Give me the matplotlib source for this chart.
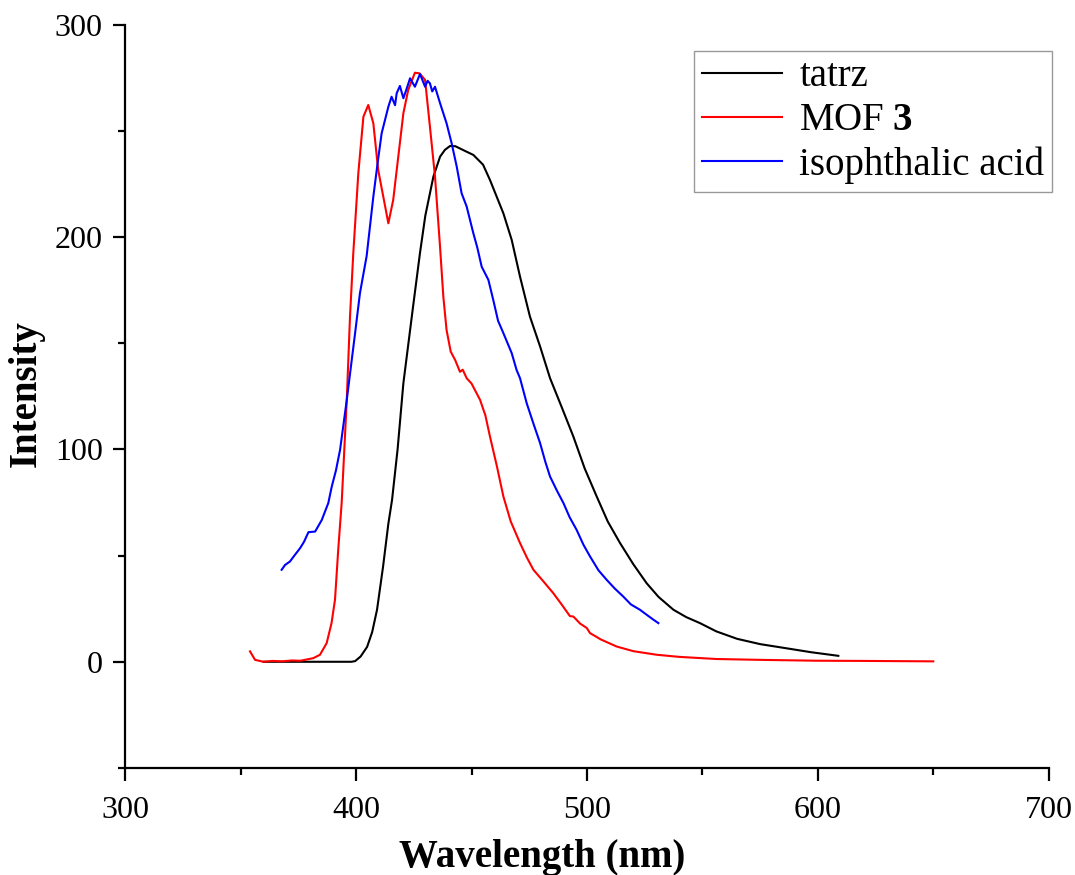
import matplotlib
matplotlib.use("Agg")
import matplotlib.pyplot as plt
from matplotlib.ticker import MultipleLocator

plt.rcParams['font.family'] = ['Liberation Serif', 'DejaVu Serif']
plt.rcParams['mathtext.fontset'] = 'custom'
plt.rcParams['mathtext.rm'] = 'Liberation Serif'
plt.rcParams['mathtext.bf'] = 'Liberation Serif:bold'

# tatrz (black)
tatrz_x = [360, 380, 398, 399.6, 402, 404.8, 407, 409.1, 411.7, 414.0, 415.6, 418, 420.5, 424.7, 427.7,
           430, 433.5, 436.4, 438.5, 440.7, 443, 447.9, 450.8, 455, 458.0, 463.8, 467.4, 471.0, 475.3,
           479.7, 484.0, 489, 494.1, 499, 504.2, 509, 514.3, 520, 525.8, 531, 537.4, 543, 548.9, 556,
           565, 575, 584.9, 597, 608.8]
tatrz_y = [0, 0, 0, 0.3, 2.5, 7, 14, 24.5, 44.7, 65, 76.2, 100, 131.1, 167.2, 192.5,
           210, 228.4, 237.8, 241, 242.8, 242.7, 240.1, 238.6, 234, 226.8, 211.1, 198.6, 181.3, 162.5,
           148.4, 133.5, 120, 106.0, 91, 77.8, 66, 55.9, 46, 37.0, 30.5, 24.5, 21, 18.2, 14.3,
           10.8, 8.3, 6.6, 4.5, 2.8]

# MOF 3 (red)
mof_x = [354.1, 356.3, 359.9, 364, 368, 372, 376, 381.5, 384.4, 387.3, 389.4, 390.9, 392.3, 393.8,
         396.0, 397.4, 398.8, 401.0, 403.2, 405.3, 407.5, 409.6, 411.8, 414.0, 416.1, 418.3, 420.5,
         422.6, 425.5, 427.5, 429.9, 432.0, 434.2, 436.4, 437.8, 439.2, 441, 442.9, 445.0, 446.2,
         447.9, 450, 453.7, 456, 458.0, 461, 463.8, 467, 471.0, 474, 476.8, 481, 485.4, 489, 492.6,
         494.1, 497, 499.9, 501.3, 506, 512.8, 520, 530.2, 540, 556.1, 575, 599.4, 620, 635, 649.9]
mof_y = [4.9, 0.9, 0.0, 0.4, 0.2, 0.6, 0.5, 1.7, 3.3, 8.8, 18.2, 29.2, 52.7, 75.0,
         123.3, 162.5, 192.0, 230.0, 256.6, 262.1, 253.5, 231.5, 219.0, 206.4, 217.4, 237.8, 258.2,
         269.2, 277.3, 277.0, 273.9, 251.9, 228.4, 195.0, 171.9, 156.2, 146, 142.1, 136.5, 137.5,
         133.5, 131, 123.3, 116, 106.0, 92, 77.8, 66, 55.9, 49, 43.3, 38, 32.3, 27, 21.5,
         21.3, 18, 15.9, 13.5, 10.5, 7.2, 5.0, 3.3, 2.3, 1.3, 0.9, 0.5, 0.4, 0.3, 0.2]

# isophthalic acid (blue)
iso_x = [367.8, 369.3, 371.4, 373.6, 375.8, 377.5, 379.4, 382.3, 385.2, 386.5, 388.0, 389.5, 391.3,
         393.1, 396.0, 399.6, 401.7, 404.6, 407.5, 409.5, 411.1, 414.0, 415.4, 416.9, 417.6, 419.0,
         420.5, 422, 423.4, 425.5, 427.7, 429.9, 431, 432.0, 433, 434.2, 436.4, 439.2, 441.4, 443.6,
         445.7, 447.9, 450.8, 452.5, 454.4, 456.5, 457.3, 459.4, 461.5, 463.8, 467.4, 469.5, 471.0,
         473.9, 477, 479.7, 482, 484.0, 487, 489.8, 492.5, 495.5, 498.5, 501.3, 505, 508.5, 512,
         515.7, 519, 522.9, 526, 528.5, 530.9]
iso_y = [43.3, 45.6, 47.2, 50.4, 53.5, 56.5, 61.0, 61.3, 66.8, 70.5, 74.7, 82.5, 90.0,
         99.8, 123.3, 154.7, 173.5, 191.0, 219.0, 236.0, 248.8, 261.3, 266.0, 262.0, 267.6, 271.1,
         265.3, 270.0, 274.7, 270.7, 276.7, 270.7, 273.5, 272.3, 268.5, 270.7, 262.9, 253.5, 244.1, 233.1,
         220.6, 214.3, 201.7, 195.0, 186.0, 181.5, 179.8, 170.4, 160.5, 154.7, 145.3, 137.4, 133.5,
         121.7, 111.5, 102.9, 94.0, 87.2, 80.5, 74.7, 68.0, 62.1, 55.0, 49.6, 43.0, 38.6, 34.5,
         30.7, 27.0, 24.5, 22.0, 20.0, 18.2]

fig = plt.figure(figsize=(10.75, 8.75), dpi=100)
ax = fig.add_axes([0.1163, 0.1223, 0.8595, 0.8497])

ax.plot(tatrz_x, tatrz_y, color='black', lw=1.5, label='tatrz')
ax.plot(mof_x, mof_y, color='#ff0000', lw=1.5, label=r'MOF $\mathbf{3}$')
ax.plot(iso_x, iso_y, color='#0000ff', lw=1.5, label='isophthalic acid')

ax.set_xlim(300, 700)
ax.set_ylim(-50, 300)
ax.xaxis.set_major_locator(MultipleLocator(100))
ax.xaxis.set_minor_locator(MultipleLocator(50))
ax.yaxis.set_major_locator(MultipleLocator(100))
ax.yaxis.set_minor_locator(MultipleLocator(50))

for s in ['top', 'right']:
    ax.spines[s].set_visible(False)
for s in ['left', 'bottom']:
    ax.spines[s].set_linewidth(1.6)

ax.tick_params(which='major', direction='out', length=9, width=1.6, labelsize=23, colors='black')
ax.tick_params(axis='x', which='major', pad=11)
ax.tick_params(axis='y', which='major', pad=7)
ax.tick_params(which='minor', direction='out', length=5, width=1.6)

ax.set_xlabel('Wavelength (nm)', fontsize=28, fontweight='bold')
ax.set_ylabel('Intensity', fontsize=28, fontweight='bold')
ax.xaxis.set_label_coords(0.452, -0.096)
ax.yaxis.set_label_coords(-0.087, 0.503)

leg = ax.legend(loc='upper right', bbox_to_anchor=(1.0035, 0.965), fontsize=28, frameon=True,
                fancybox=False, edgecolor='#808080', handlelength=2.06, handletextpad=0.45,
                borderpad=0.2, labelspacing=0.18, borderaxespad=0)
leg.get_frame().set_linewidth(1.0)

fig.savefig('out.png', dpi=100)
